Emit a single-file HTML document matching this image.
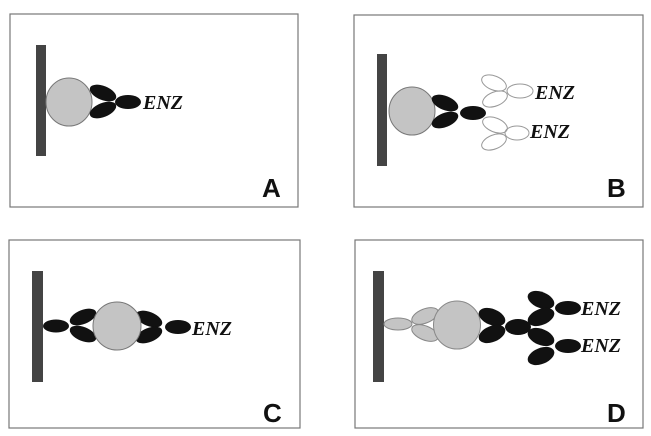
<!DOCTYPE html>
<html><head><meta charset="utf-8"><style>
html,body{margin:0;padding:0;background:#fff;}
svg{display:block;}
.enz{font-family:"Liberation Serif",serif;font-weight:bold;font-style:italic;font-size:20px;fill:#111;}
.lab{font-family:"Liberation Sans",sans-serif;font-weight:bold;font-size:26px;fill:#111;}
</style></head><body>
<svg width="651" height="436" viewBox="0 0 651 436" xmlns="http://www.w3.org/2000/svg">
<g fill="none" stroke="#777" stroke-width="1.2">
<rect x="10" y="14" width="288" height="193"/>
<rect x="354" y="15" width="289" height="192"/>
<rect x="9" y="240" width="291" height="188"/>
<rect x="355" y="240" width="288" height="188"/>
</g>
<!-- A -->
<rect x="36" y="45" width="10" height="111" fill="#444"/>
<ellipse cx="69" cy="102" rx="23" ry="24" fill="#c4c4c4" stroke="#777"/>
<ellipse cx="103" cy="93" rx="14" ry="7" fill="#111" transform="rotate(22 103 93)"/>
<ellipse cx="103" cy="110" rx="14" ry="7" fill="#111" transform="rotate(-22 103 110)"/>
<ellipse cx="128" cy="102" rx="13" ry="7" fill="#111"/>
<text x="143" y="109" class="enz">ENZ</text>
<text x="262" y="197" class="lab">A</text>
<!-- B -->
<rect x="377" y="54" width="10" height="112" fill="#444"/>
<ellipse cx="412" cy="111" rx="23" ry="24" fill="#c4c4c4" stroke="#777"/>
<ellipse cx="445" cy="103" rx="14" ry="7" fill="#111" transform="rotate(22 445 103)"/>
<ellipse cx="445" cy="120" rx="14" ry="7" fill="#111" transform="rotate(-22 445 120)"/>
<ellipse cx="473" cy="113" rx="13" ry="7" fill="#111"/>
<g fill="none" stroke="#999" stroke-width="1">
<ellipse cx="494" cy="83" rx="13" ry="7" transform="rotate(22 494 83)"/>
<ellipse cx="495" cy="99" rx="13" ry="7" transform="rotate(-22 495 99)"/>
<ellipse cx="520" cy="91" rx="13" ry="7"/>
<ellipse cx="495" cy="125" rx="13" ry="7" transform="rotate(22 495 125)"/>
<ellipse cx="494" cy="142" rx="13" ry="7" transform="rotate(-22 494 142)"/>
<ellipse cx="517" cy="133" rx="12" ry="7"/>
</g>
<text x="535" y="99" class="enz">ENZ</text>
<text x="530" y="138" class="enz">ENZ</text>
<text x="607" y="197" class="lab">B</text>
<!-- C -->
<rect x="32" y="271" width="11" height="111" fill="#444"/>
<ellipse cx="56" cy="326" rx="13" ry="6.5" fill="#111"/>
<ellipse cx="83" cy="317" rx="14" ry="7" fill="#111" transform="rotate(-22 83 317)"/>
<ellipse cx="83" cy="334" rx="14" ry="7" fill="#111" transform="rotate(22 83 334)"/>
<ellipse cx="149" cy="319" rx="14" ry="7" fill="#111" transform="rotate(22 149 319)"/>
<ellipse cx="149" cy="335" rx="14" ry="7" fill="#111" transform="rotate(-22 149 335)"/>
<ellipse cx="117" cy="326" rx="24" ry="24" fill="#c4c4c4" stroke="#777"/>
<ellipse cx="178" cy="327" rx="13" ry="7" fill="#111"/>
<text x="192" y="335" class="enz">ENZ</text>
<text x="263" y="422" class="lab">C</text>
<!-- D -->
<rect x="373" y="271" width="11" height="111" fill="#444"/>
<g fill="#c4c4c4" stroke="#888">
<ellipse cx="398" cy="324" rx="14" ry="6"/>
<ellipse cx="425" cy="316" rx="14" ry="7" transform="rotate(-22 425 316)"/>
<ellipse cx="425" cy="333" rx="14" ry="7" transform="rotate(22 425 333)"/>
<ellipse cx="457" cy="325" rx="23.5" ry="24"/>
</g>
<ellipse cx="492" cy="317" rx="14" ry="8" fill="#111" transform="rotate(22 492 317)"/>
<ellipse cx="492" cy="334" rx="14" ry="8" fill="#111" transform="rotate(-22 492 334)"/>
<ellipse cx="518" cy="327" rx="13" ry="8" fill="#111"/>
<ellipse cx="541" cy="300" rx="14" ry="8" fill="#111" transform="rotate(22 541 300)"/>
<ellipse cx="541" cy="317" rx="14" ry="8" fill="#111" transform="rotate(-22 541 317)"/>
<ellipse cx="568" cy="308" rx="13" ry="7" fill="#111"/>
<ellipse cx="541" cy="337" rx="14" ry="8" fill="#111" transform="rotate(22 541 337)"/>
<ellipse cx="541" cy="356" rx="14" ry="8" fill="#111" transform="rotate(-22 541 356)"/>
<ellipse cx="568" cy="346" rx="13" ry="7" fill="#111"/>
<text x="581" y="315" class="enz">ENZ</text>
<text x="581" y="352" class="enz">ENZ</text>
<text x="607" y="422" class="lab">D</text>
</svg>
</body></html>
